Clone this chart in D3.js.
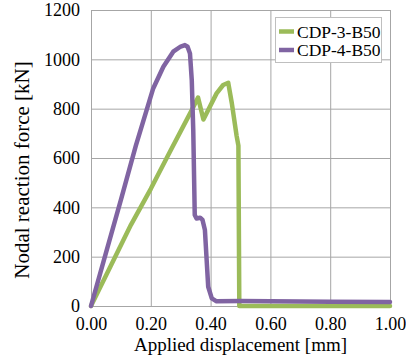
<!DOCTYPE html>
<html>
<head>
<meta charset="utf-8">
<script src="https://cdn.jsdelivr.net/npm/d3@7/dist/d3.min.js"></script>
<style>
  html, body { margin: 0; padding: 0; background: #fff; }
  svg { display: block; }
  text { font-family: 'Liberation Serif', 'Times New Roman', serif; }
</style>
</head>
<body>
<svg id="chart" width="406" height="360"></svg>
<script>
// Axis ticks
const xTicks = [0, 0.2, 0.4, 0.6, 0.8, 1.0];
const yTicks = [0, 200, 400, 600, 800, 1000, 1200];

// Series names
const seriesNames = ["CDP-3-B50", "CDP-4-B50"];

// CDP-3-B50: applied displacement [mm] and nodal reaction force [kN]
const cdp3Disp  = [0, 0.067, 0.134, 0.2, 0.264, 0.337, 0.358, 0.376, 0.42, 0.442, 0.459, 0.471, 0.487, 0.493, 0.496, 0.6, 0.8, 1.0];
const cdp3Force = [0, 165, 330, 475, 625, 794, 845, 756, 862, 896, 905, 822, 690, 650, 0, 0, 0, 0];

// CDP-4-B50
const cdp4Disp  = [0, 0.05, 0.10, 0.15, 0.186, 0.208, 0.242, 0.275, 0.300, 0.314, 0.323, 0.331, 0.337, 0.342, 0.347, 0.353, 0.365, 0.373, 0.381, 0.392, 0.404, 0.42, 0.5, 0.6, 0.8, 1.0];
const cdp4Force = [0, 215, 430, 650, 794, 882, 970, 1031, 1052, 1058, 1051, 1024, 916, 713, 369, 355, 358, 349, 308, 78, 31, 19, 20, 19, 17, 16];

const colors = ["#9BBB59", "#8064A2"];

const svg = d3.select("#chart");
const plotL = 91, plotR = 390, plotT = 10, plotB = 306;

const x = d3.scaleLinear().domain([0, 1]).range([plotL, plotR]);
const y = d3.scaleLinear().domain([0, 1200]).range([plotB, plotT]);

const gridColor = "#a6a6a6";
const font = "'Liberation Serif', 'Times New Roman', serif";

// Horizontal gridlines + y tick labels
const gy = svg.append("g")
  .attr("transform", `translate(${plotL},0)`)
  .call(d3.axisLeft(y).tickValues(yTicks).tickFormat(d3.format("d"))
    .tickSize(-(plotR - plotL)).tickSizeOuter(0).tickPadding(11))
  .attr("font-family", font).attr("font-size", 18);
gy.selectAll(".tick line").attr("stroke", gridColor).attr("stroke-width", 1);
gy.select(".domain").attr("stroke", gridColor);
gy.selectAll("text").attr("fill", "#000");

// Vertical gridlines + x tick labels
const gx = svg.append("g")
  .attr("transform", `translate(0,${plotB})`)
  .call(d3.axisBottom(x).tickValues(xTicks).tickFormat(d3.format(".2f"))
    .tickSize(-(plotB - plotT)).tickSizeOuter(0).tickPadding(11))
  .attr("font-family", font).attr("font-size", 18);
gx.selectAll(".tick line").attr("stroke", gridColor).attr("stroke-width", 1);
gx.select(".domain").attr("stroke", gridColor);
gx.selectAll("text").attr("fill", "#000");

// Axis titles
svg.append("text")
  .attr("x", (plotL + plotR) / 2).attr("y", 351)
  .attr("text-anchor", "middle")
  .attr("font-size", 19)
  .text("Applied displacement [mm]");

svg.append("text")
  .attr("transform", "translate(29,170) rotate(-90)")
  .attr("text-anchor", "middle")
  .attr("font-size", 21)
  .text("Nodal reaction force [kN]");

// Curves
const line = d3.line().x(d => x(d[0])).y(d => y(d[1]));
const series = [
  d3.zip(cdp3Disp, cdp3Force),
  d3.zip(cdp4Disp, cdp4Force)
];
series.forEach((pts, i) => {
  svg.append("path")
    .datum(pts)
    .attr("d", line)
    .attr("fill", "none")
    .attr("stroke", colors[i])
    .attr("stroke-width", 4.5)
    .attr("stroke-linejoin", "round")
    .attr("stroke-linecap", "round");
});

// Legend
const lg = svg.append("g");
lg.append("rect")
  .attr("x", 275.5).attr("y", 17.5).attr("width", 106).attr("height", 45)
  .attr("fill", "#fff").attr("stroke", "#bfbfbf").attr("stroke-width", 1);
seriesNames.forEach((name, i) => {
  const cy = 31.5 + i * 18.5;
  lg.append("line")
    .attr("x1", 279).attr("x2", 294).attr("y1", cy).attr("y2", cy)
    .attr("stroke", colors[i]).attr("stroke-width", 4.5);
  lg.append("text")
    .attr("x", 297).attr("y", cy).attr("dy", "0.35em")
    .attr("font-size", 17.5)
    .text(name);
});
</script>
</body>
</html>
